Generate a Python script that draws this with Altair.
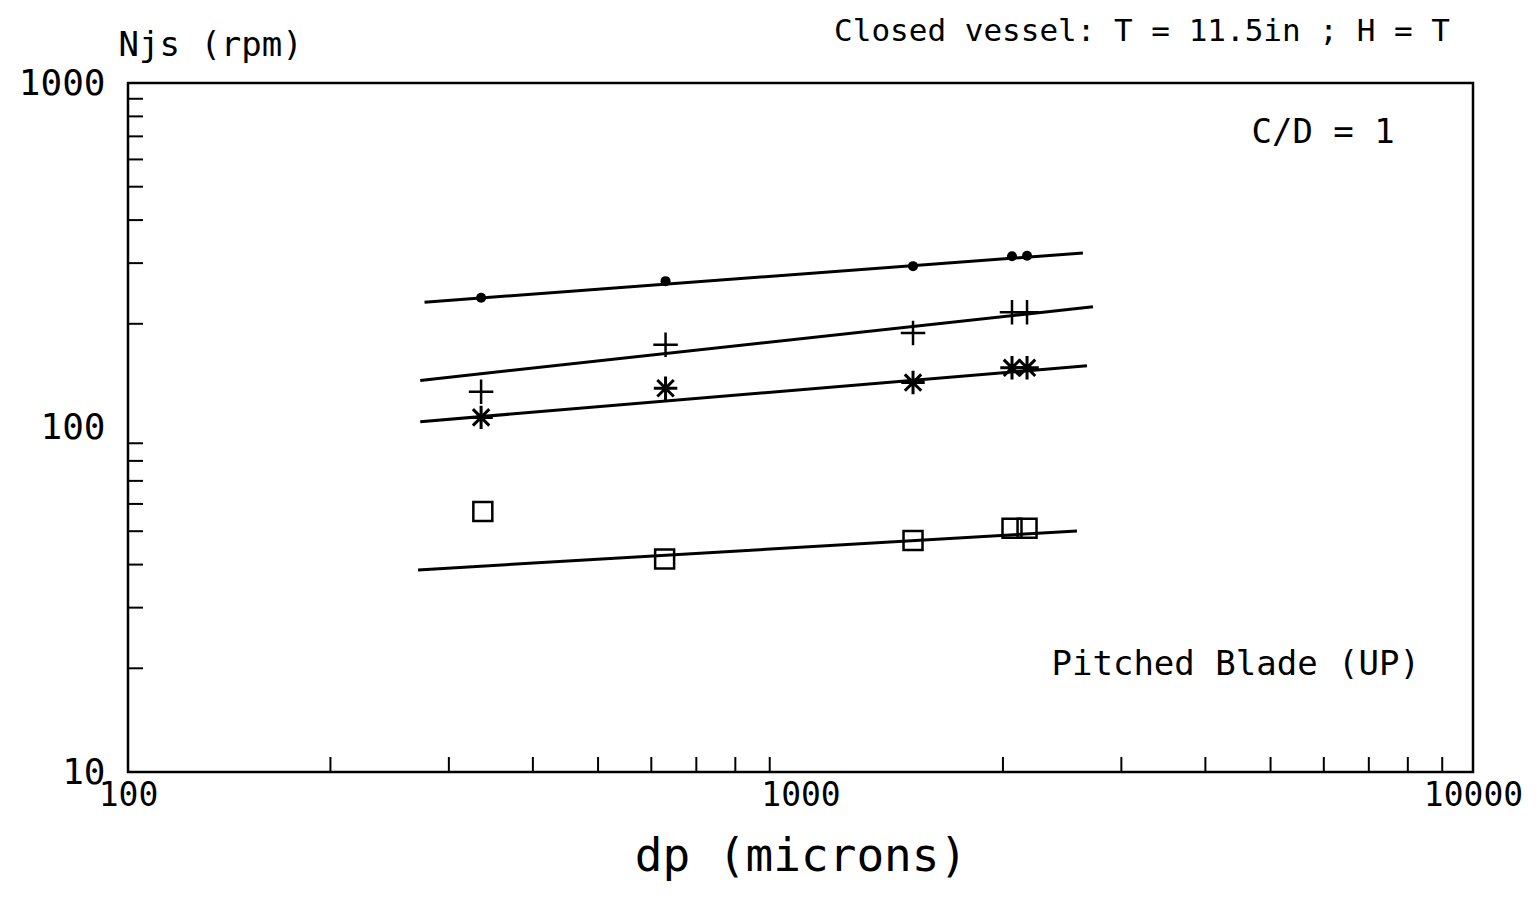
import altair as alt
import pandas as pd

# ---- data ----
dp_points = [335, 630, 1470, 2063, 2172]
njs_circle = [238, 266, 294, 314, 315]
njs_plus = [127, 174, 188, 216, 216]
njs_star = [107, 130, 135, 149, 149]
dp_square = [337, 628, 1470, 2063, 2172]
njs_square = [57, 41.5, 47, 51, 51]

# fitted lines (end points)
line_circle_x = [276, 2630]
line_circle_y = [231, 321]
line_plus_x = [272, 2722]
line_plus_y = [137, 224]
line_star_x = [272, 2667]
line_star_y = [104, 151]
line_square_x = [270, 2577]
line_square_y = [38.6, 50.1]

x_minor = [200, 300, 400, 500, 600, 700, 800, 900,
           2000, 3000, 4000, 5000, 6000, 7000, 8000, 9000]
y_minor = [20, 30, 40, 50, 60, 70, 80, 90,
           200, 300, 400, 500, 600, 700, 800, 900]
x_labels = [100, 1000, 10000]
y_labels = [10, 100, 1000]

annot_text = ["C/D = 1", "Pitched Blade (UP)"]
annot_x = [7650, 8340]
annot_y = [716, 20.4]

header = "Closed vessel: T = 11.5in ; H = T"

FONT = "DejaVu Sans Mono"
W, H = 1345, 689

xs = alt.Scale(type="log", domain=[100, 10000], nice=False)
ys = alt.Scale(type="log", domain=[10, 1000], nice=False)

xaxis = alt.Axis(values=x_labels, format="d", tickSize=0, domain=False,
                 grid=False, labelFontSize=33, labelFont=FONT,
                 labelPadding=7, labelColor="black", labelFlush=False,
                 title="dp (microns)", titleFont=FONT, titleFontSize=46,
                 titleFontWeight="normal", titleColor="black",
                 titleBaseline="alphabetic", titleY=98)
yaxis = alt.Axis(values=y_labels, format="d", tickSize=0, domain=False,
                 grid=False, labelFontSize=36, labelFont=FONT,
                 labelPadding=23, labelColor="black", labelFlush=False,
                 title="Njs (rpm)", titleFont=FONT, titleFontSize=34,
                 titleFontWeight="normal", titleColor="black",
                 titleAngle=0, titleAlign="left", titleBaseline="middle",
                 titleX=-10, titleY=-38)


def X(f):
    return alt.X(f, scale=xs, axis=xaxis)


def Y(f):
    return alt.Y(f, scale=ys, axis=yaxis)


pts = pd.DataFrame({"dp": dp_points, "c": njs_circle, "p": njs_plus, "s": njs_star})
sq = pd.DataFrame({"dp": dp_square, "n": njs_square})

lines = pd.concat([
    pd.DataFrame({"x": line_circle_x, "y": line_circle_y, "k": "c"}),
    pd.DataFrame({"x": line_plus_x, "y": line_plus_y, "k": "p"}),
    pd.DataFrame({"x": line_star_x, "y": line_star_y, "k": "s"}),
    pd.DataFrame({"x": line_square_x, "y": line_square_y, "k": "q"}),
])

line_layer = alt.Chart(lines).mark_line(color="black", strokeWidth=3).encode(
    x=X("x:Q"), y=Y("y:Q"), detail="k:N")

circ = alt.Chart(pts).mark_point(shape="circle", filled=True, color="black",
                                 size=100, opacity=1).encode(x=X("dp:Q"), y=Y("c:Q"))

plus = alt.Chart(pts).mark_point(shape="M-1,0H1M0,-1V1", filled=False, color="black",
                                 strokeWidth=2.5, size=600, opacity=1).encode(
    x=X("dp:Q"), y=Y("p:Q"))

star = alt.Chart(pts).mark_point(
    shape="M-1,0H1M0,-1V1M-0.7,-0.7L0.7,0.7M-0.7,0.7L0.7,-0.7",
    filled=False, color="black", strokeWidth=3, size=550, opacity=1).encode(
    x=X("dp:Q"), y=Y("s:Q"))

square = alt.Chart(sq).mark_point(shape="square", filled=False, color="black",
                                  strokeWidth=2.5, size=360, opacity=1).encode(
    x=X("dp:Q"), y=Y("n:Q"))

xt = alt.Chart(pd.DataFrame({"v": x_minor})).mark_rule(color="black", strokeWidth=2).encode(
    x=X("v:Q"), y=alt.value(H), y2=alt.value(H - 15))
yt = alt.Chart(pd.DataFrame({"v": y_minor})).mark_rule(color="black", strokeWidth=2).encode(
    y=Y("v:Q"), x=alt.value(0), x2=alt.value(15))

ann = alt.Chart(pd.DataFrame({"t": annot_text, "x": annot_x, "y": annot_y})).mark_text(
    align="right", baseline="middle", font=FONT, fontSize=34, color="black").encode(
    x=X("x:Q"), y=Y("y:Q"), text="t:N")

head = alt.Chart(pd.DataFrame({"t": [header]})).mark_text(
    align="right", baseline="middle", font=FONT, fontSize=31, color="black").encode(
    x=alt.value(W - 23), y=alt.value(-51), text="t:N")

chart = alt.layer(line_layer, xt, yt, circ, plus, star, square, ann, head).properties(
    width=W, height=H,
    autosize=alt.AutoSizeParams(type="none"),
    padding={"left": 128, "top": 83, "right": 64, "bottom": 129},
).configure_view(stroke="black", strokeWidth=2.5)

chart.save("out.html", embed_options={"renderer": "svg", "actions": False})
